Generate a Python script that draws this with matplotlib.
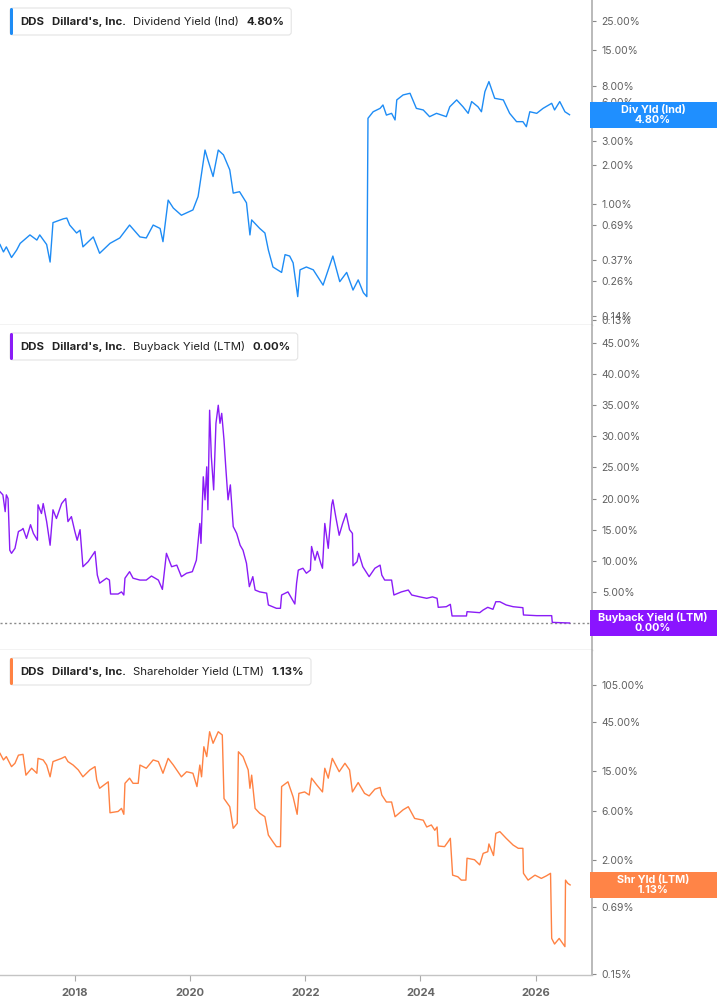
import matplotlib.pyplot as plt
from matplotlib.patches import FancyBboxPatch, Rectangle
from matplotlib.ticker import FixedLocator, NullLocator, FuncFormatter
from matplotlib.transforms import IdentityTransform

plt.rcParams['font.family'] = ['Inter', 'DejaVu Sans']

# ---- data (decimal years, values in %) ----
div_years = [2016.70, 2016.76, 2016.81, 2016.90, 2016.99, 2017.05, 2017.22, 2017.34, 2017.39, 2017.51,
             2017.57, 2017.62, 2017.80, 2017.86, 2017.91, 2018.03, 2018.09, 2018.14, 2018.32, 2018.43,
             2018.61, 2018.78, 2018.95, 2019.13, 2019.24, 2019.36, 2019.48, 2019.53, 2019.62, 2019.71,
             2019.85, 2020.05, 2020.14, 2020.20, 2020.26, 2020.31, 2020.40, 2020.49, 2020.58, 2020.69,
             2020.75, 2020.86, 2020.98, 2021.04, 2021.07, 2021.21, 2021.30, 2021.36, 2021.44, 2021.59,
             2021.65, 2021.73, 2021.79, 2021.87, 2021.91, 2022.02, 2022.14, 2022.31, 2022.48, 2022.60,
             2022.72, 2022.83, 2022.92, 2023.01, 2023.07, 2023.09, 2023.18, 2023.30, 2023.35, 2023.41,
             2023.50, 2023.56, 2023.59, 2023.70, 2023.82, 2023.93, 2024.05, 2024.16, 2024.28, 2024.45,
             2024.51, 2024.63, 2024.74, 2024.83, 2024.89, 2025.00, 2025.06, 2025.12, 2025.19, 2025.29,
             2025.44, 2025.55, 2025.67, 2025.78, 2025.84, 2025.90, 2026.02, 2026.13, 2026.28, 2026.33,
             2026.42, 2026.51, 2026.59]
div_yield = [0.49, 0.43, 0.47, 0.39, 0.445, 0.50, 0.58, 0.53, 0.58, 0.49,
             0.36, 0.72, 0.77, 0.78, 0.69, 0.60, 0.63, 0.47, 0.56, 0.42,
             0.50, 0.55, 0.69, 0.56, 0.55, 0.69, 0.65, 0.515, 1.07, 0.93,
             0.82, 0.90, 1.14, 1.71, 2.58, 2.17, 1.62, 2.58, 2.37, 1.82,
             1.21, 1.24, 1.02, 0.58, 0.755, 0.65, 0.60, 0.445, 0.33, 0.30,
             0.41, 0.40, 0.355, 0.196, 0.314, 0.33, 0.314, 0.24, 0.40, 0.255,
             0.30, 0.22, 0.263, 0.21, 0.196, 4.51, 5.06, 5.37, 5.70, 4.77,
             4.92, 4.38, 6.23, 6.80, 7.0, 5.37, 5.22, 4.64, 4.92, 4.64,
             5.52, 6.23, 5.52, 4.92, 6.05, 5.52, 5.06, 7.2, 8.6, 6.41,
             6.23, 4.92, 4.25, 4.25, 3.89, 5.06, 4.92, 5.37, 5.87, 5.22,
             6.05, 5.06, 4.80]

buy_years = [2016.70, 2016.75, 2016.79, 2016.81, 2016.84, 2016.87, 2016.90, 2016.96, 2017.02, 2017.08,
             2017.10, 2017.16, 2017.23, 2017.28, 2017.35, 2017.36, 2017.42, 2017.45, 2017.51, 2017.57,
             2017.62, 2017.68, 2017.77, 2017.84, 2017.88, 2017.94, 2018.00, 2018.04, 2018.09, 2018.14,
             2018.23, 2018.35, 2018.39, 2018.43, 2018.55, 2018.60, 2018.62, 2018.75, 2018.81, 2018.85,
             2018.87, 2018.95, 2019.01, 2019.13, 2019.24, 2019.33, 2019.45, 2019.52, 2019.59, 2019.68,
             2019.77, 2019.85, 2019.94, 2020.04, 2020.11, 2020.17, 2020.19, 2020.23, 2020.26, 2020.29,
             2020.31, 2020.34, 2020.37, 2020.41, 2020.45, 2020.49, 2020.52, 2020.55, 2020.59, 2020.62,
             2020.66, 2020.70, 2020.75, 2020.81, 2020.87, 2020.92, 2020.98, 2021.03, 2021.09, 2021.13,
             2021.21, 2021.33, 2021.36, 2021.50, 2021.57, 2021.59, 2021.70, 2021.82, 2021.85, 2021.88,
             2021.96, 2022.02, 2022.09, 2022.11, 2022.17, 2022.21, 2022.27, 2022.30, 2022.34, 2022.40,
             2022.46, 2022.48, 2022.53, 2022.59, 2022.65, 2022.71, 2022.77, 2022.82, 2022.83, 2022.90,
             2022.93, 2023.00, 2023.11, 2023.21, 2023.30, 2023.33, 2023.38, 2023.50, 2023.54, 2023.67,
             2023.79, 2023.85, 2023.99, 2024.11, 2024.21, 2024.29, 2024.31, 2024.45, 2024.52, 2024.55,
             2024.80, 2024.81, 2025.03, 2025.09, 2025.17, 2025.26, 2025.31, 2025.38, 2025.49, 2025.61,
             2025.78, 2025.79, 2026.02, 2026.28, 2026.29, 2026.59]
buy_yield = [21.1, 20.6, 17.9, 20.6, 20.0, 11.7, 11.2, 12.0, 14.7, 15.0,
             15.2, 13.6, 15.8, 14.4, 13.3, 19.0, 17.6, 19.2, 16.3, 12.5,
             18.2, 16.8, 19.2, 20.0, 16.3, 17.1, 14.7, 13.3, 15.0, 9.05,
             9.85, 11.5, 7.7, 6.4, 7.2, 6.9, 4.66, 4.66, 5.0, 4.5,
             7.2, 8.25, 7.2, 6.9, 6.9, 7.55, 6.9, 5.4, 11.2, 9.05,
             9.3, 7.45, 8.0, 8.25, 10.1, 16.0, 12.8, 23.5, 19.8, 25.1,
             18.2, 34.2, 26.7, 21.4, 32.1, 35.0, 32.1, 33.7, 29.4, 25.1,
             19.8, 22.2, 15.5, 14.4, 12.5, 11.7, 9.6, 5.84, 7.45, 5.3,
             5.0, 4.8, 2.9, 2.36, 2.36, 4.5, 5.0, 3.05, 6.4, 8.5,
             8.8, 8.0, 8.5, 12.3, 10.1, 11.5, 9.6, 8.8, 16.0, 12.0,
             19.0, 19.8, 17.1, 14.1, 16.0, 17.6, 15.0, 14.4, 9.2, 9.85,
             11.2, 9.05, 7.45, 8.8, 9.3, 7.7, 6.9, 6.9, 4.5, 5.0,
             5.3, 4.5, 4.2, 3.97, 4.2, 3.97, 2.52, 2.62, 3.0, 1.13,
             1.13, 1.82, 1.66, 2.09, 2.52, 2.2, 3.42, 3.42, 2.9, 2.62,
             2.46, 1.29, 1.18, 1.18, 0.1, 0.0]

shr_years = [2016.70, 2016.76, 2016.81, 2016.90, 2016.96, 2017.02, 2017.10, 2017.15, 2017.25, 2017.34,
             2017.36, 2017.45, 2017.51, 2017.57, 2017.62, 2017.77, 2017.83, 2017.88, 2017.97, 2018.06,
             2018.14, 2018.26, 2018.35, 2018.38, 2018.43, 2018.58, 2018.61, 2018.75, 2018.81, 2018.85,
             2018.87, 2018.95, 2019.01, 2019.10, 2019.13, 2019.24, 2019.36, 2019.45, 2019.53, 2019.62,
             2019.71, 2019.85, 2019.94, 2020.05, 2020.12, 2020.17, 2020.20, 2020.24, 2020.29, 2020.34,
             2020.40, 2020.49, 2020.56, 2020.59, 2020.69, 2020.75, 2020.82, 2020.84, 2020.92, 2021.01,
             2021.04, 2021.07, 2021.13, 2021.21, 2021.30, 2021.36, 2021.44, 2021.50, 2021.57,
             2021.59, 2021.70, 2021.79, 2021.86, 2021.89, 2021.99, 2022.07, 2022.11, 2022.20, 2022.30,
             2022.34, 2022.40, 2022.47, 2022.59, 2022.69, 2022.77, 2022.82, 2022.92, 2023.03, 2023.11,
             2023.21, 2023.30, 2023.33, 2023.41, 2023.50, 2023.56, 2023.70, 2023.79, 2023.90, 2024.05,
             2024.11, 2024.19, 2024.25, 2024.29, 2024.31, 2024.42, 2024.48, 2024.52, 2024.56, 2024.65,
             2024.71, 2024.79, 2024.81, 2024.94, 2025.03, 2025.09, 2025.17, 2025.19, 2025.27, 2025.31,
             2025.38, 2025.49, 2025.61, 2025.70, 2025.78, 2025.79, 2025.87, 2025.99, 2026.10, 2026.19,
             2026.26, 2026.28, 2026.33, 2026.41, 2026.51, 2026.52, 2026.56, 2026.60]
shr_yield = [22.3, 19.2, 20.7, 16.5, 17.8, 21.4, 21.8, 13.6, 15.9, 14.2,
             19.9, 19.2, 17.1, 13.1, 18.5, 19.9, 20.7, 18.5, 17.1, 15.3,
             13.1, 15.3, 16.5, 12.2, 10.1, 11.7, 5.8, 5.97, 6.4, 5.6,
             11.3, 12.7, 11.3, 11.3, 17.1, 15.9, 19.2, 18.5, 14.2, 19.9,
             17.1, 13.1, 14.7, 14.2, 10.5, 17.1, 13.1, 25.9, 20.7, 36.4,
             28.0, 36.4, 33.8, 8.0, 6.65, 4.08, 4.56, 23.1, 20.7, 15.3,
             10.1, 13.6, 6.4, 5.73, 5.3, 3.5, 3.0, 2.69, 2.69,
             10.5, 11.7, 8.3, 5.6, 9.0, 9.3, 8.67, 12.7, 10.9, 9.3,
             15.9, 12.7, 19.9, 14.7, 17.8, 15.3, 9.3, 11.5, 9.0, 8.5,
             9.9, 10.3, 8.67, 7.4, 7.4, 5.3, 6.2, 6.65, 5.1, 4.9,
             4.2, 4.4, 3.9, 4.2, 2.73, 2.69, 3.0, 3.25, 1.41, 1.36,
             1.26, 1.26, 2.07, 2.0, 1.78, 2.31, 2.4, 2.86, 2.2, 3.64,
             3.78, 3.25, 2.79, 2.59, 2.59, 1.47, 1.26, 1.41, 1.31, 1.39,
             1.47, 0.336, 0.296, 0.336, 0.279, 1.26, 1.17, 1.13]

div_ticks = [0.13, 0.14, 0.26, 0.37, 0.69, 1, 2, 3, 6, 8, 15, 25]
buy_ticks = [0, 5, 10, 15, 20, 25, 30, 35, 40, 45]
shr_ticks = [0.15, 0.69, 2, 6, 15, 45, 105]
year_ticks = [2018, 2020, 2022, 2024, 2026]

BLUE = '#1e8cf5'
PURPLE = '#8a1cf6'
ORANGE = '#ff8243'

W, H = 717, 1005
fig = plt.figure(figsize=(W / 100, H / 100), dpi=100, facecolor='white')


def make_axes(top, bottom):
    return fig.add_axes([0, 1 - bottom / H, 592 / W, (bottom - top) / H])


ax1 = make_axes(0, 325)
ax2 = make_axes(325, 650)
ax3 = make_axes(650, 975)

pct = FuncFormatter(lambda v, _: f'{v:.2f}%')

for ax in (ax1, ax2, ax3):
    ax.set_xlim(2016.70, 2026.98)
    for s in ('top', 'left'):
        ax.spines[s].set_visible(False)
    ax.spines['right'].set_color('#b4b4b4')
    ax.spines['right'].set_linewidth(1.3)
    ax.spines['bottom'].set_color('#c4c4c4')
    ax.spines['bottom'].set_linewidth(1.0)
    ax.yaxis.tick_right()
    ax.tick_params(axis='y', direction='out', length=3, width=0.8, color='#888888',
                   labelcolor='#606060', labelsize=7.5, pad=4)
    ax.yaxis.set_major_formatter(pct)
    ax.yaxis.set_minor_locator(NullLocator())

for ax in (ax1, ax2):
    ax.tick_params(axis='x', bottom=False, labelbottom=False)

ax3.set_xticks(year_ticks)
ax3.set_xticklabels([str(y) for y in year_ticks], fontweight='bold')
ax3.tick_params(axis='x', direction='out', length=4, color='#aaaaaa',
                labelcolor='#666666', labelsize=8, pad=5)

# panel 1: dividend yield
ax1.plot(div_years, div_yield, color=BLUE, lw=1.0)
ax1.set_yscale('log')
ax1.set_ylim(0.119, 36.1)
ax1.yaxis.set_major_locator(FixedLocator(div_ticks))
ax1.yaxis.set_minor_locator(NullLocator())
ax1.yaxis.set_major_formatter(pct)

# panel 2: buyback yield
ax2.plot(buy_years, buy_yield, color=PURPLE, lw=1.0)
ax2.axhline(0, color='#8a8a8a', lw=1, ls=(0, (1.5, 1.8)), zorder=0)
ax2.set_ylim(-4.34, 47.9)
ax2.yaxis.set_major_locator(FixedLocator(buy_ticks))

# panel 3: shareholder yield
ax3.plot(shr_years, shr_yield, color=ORANGE, lw=1.0)
ax3.set_yscale('log')
ax3.set_ylim(0.1467, 232)
ax3.yaxis.set_major_locator(FixedLocator(shr_ticks))
ax3.yaxis.set_minor_locator(NullLocator())
ax3.yaxis.set_major_formatter(pct)


def add_legend(color, metric, value, top_px):
    fs = 8.2
    first = fig.text(20, H - (top_px + 25), 'DDS', transform=IdentityTransform(), fontsize=fs,
                     fontweight='bold', color='#222222', va='baseline', zorder=10)
    parts = [first]
    for txt, wt in (("Dillard's, Inc.", 'bold'), (metric, 'normal'), (value, 'bold')):
        nt = fig.text(0, 0, txt, fontsize=fs, fontweight=wt, color='#222222',
                      va='baseline', ha='left', zorder=10, transform=IdentityTransform())
        parts.append(nt)
    fig.canvas.draw()
    r = fig.canvas.get_renderer()
    x = parts[0].get_window_extent(r).x1
    for p in parts[1:]:
        p.set_position((x + 7.5, H - (top_px + 25)))
        x = p.get_window_extent(r).x1
    box = FancyBboxPatch((10, H - top_px - 35), x + 7 - 10, 27,
                         boxstyle='round,pad=0,rounding_size=3', transform=IdentityTransform(),
                         facecolor='white', edgecolor='#e4e4e4', lw=0.8, zorder=8)
    fig.add_artist(box)
    bar = FancyBboxPatch((10, H - top_px - 35), 3, 27,
                         boxstyle='round,pad=0,rounding_size=1.5', transform=IdentityTransform(),
                         facecolor=color, edgecolor='none', zorder=9)
    fig.add_artist(bar)


def add_value_box(ax, color, label, value):
    yd = ax.transData.transform((2020, value))[1]
    fig.add_artist(Rectangle((590, yd - 13), 127, 26, transform=IdentityTransform(),
                             facecolor=color, edgecolor='none', zorder=6))
    fig.text(653 / W, yd / H, f'{label}\n{value:.2f}%', ha='center', va='center',
             color='white', fontsize=7.8, fontweight='bold', linespacing=1.0, zorder=7)


add_legend(BLUE, 'Dividend Yield (Ind)', '4.80%', 0)
add_legend(PURPLE, 'Buyback Yield (LTM)', '0.00%', 325)
add_legend(ORANGE, 'Shareholder Yield (LTM)', '1.13%', 650)

add_value_box(ax1, '#1f8fff', 'Div Yld (Ind)', 4.80)
add_value_box(ax2, '#8a14ff', 'Buyback Yield (LTM)', 0.00)
add_value_box(ax3, '#ff8447', 'Shr Yld (LTM)', 1.13)

fig.savefig('out.png', dpi=100, facecolor='white')
